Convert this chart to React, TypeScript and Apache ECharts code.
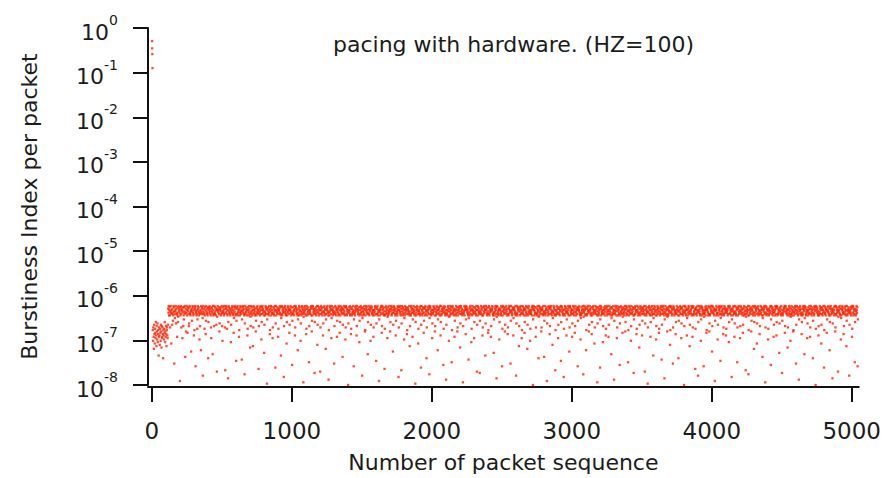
import { useEffect, useRef } from "react";
import * as echarts from "echarts";

const TITLE = "pacing with hardware. (HZ=100)";
const X_NAME = "Number of packet sequence";
const Y_NAME = "Burstiness Index per packet";

const xTicks = [0, 1000, 2000, 3000, 4000, 5000];
const yTicks = [1e-8, 1e-7, 1e-6, 1e-5, 1e-4, 1e-3, 1e-2, 1e-1, 1];

// first few packets (very bursty)
const startPackets = [1, 2, 3, 4];
const startValues = [0.51, 0.35, 0.26, 0.126];

// remaining packets: one level character per sampled packet, read off the picture
// level index k (position in LEVELS) -> value 10^(-8 + 0.03 k)
const BAND_FIRST_PACKET = 6;
const BAND_PACKET_STEP = 2;
const LEVELS = "0123456789ABCDEFGHIJKLMNOPQRSTUVWXYZabcdefghijklmnopqrstuvwx";
const bandRows = [
  "fXhaRjcVgdZlbTieYkWcfMahbUgdXjeSiaZhcKfbYgdlWeaicTfhbZjvsxqu",
  "wqhtxsVurjvsmqxtwGrotuxkvrsaqwlpxvtsu3wqrxhvtuZswiqnwtxrLsve",
  "sxuqdwtvrikwxrsqtPuvmtxwsqrbufvxwEtsqrugnxvtwqsYriutQxswrvo7",
  "txvrsgqwucmxtsrvqwKluwsxvtrqhZwvtsNxqurixsrwtqvjuApvxutswrek",
  "uvwqtrxsiXwtsuqxrvhBsxvwtgrqu5lxwtsrvquWjtvsxwruqdostxwvqrIm",
  "rwvxsqtuafvqsxwtruJntwxusvrq8kxrsvtwqubguwsqxtvrSpixstwqurTh",
  "xuswvqtremqvwsxturCisvtqwxruYlwrxuvstqOjtqsxwrvu1nvrwtqsxucf",
  "vtqxwsurZhswrqvtxuDkxqtuswrvagtuvrxswqMorxwqutsv6iwsxtvqruVl",
  "qsxwtvurdjuvxtsqwrFmwrstuqxvbhxtwvsruqQnsvqxwturXktqwxsvru2p",
  "swtxurvqcgxvqswtruHitusrwvxqemqwxvstur9lvrtwqsuxUjxstqvwruAh",
  "uxrvwsqtbkwtsxqvurRnrvwuxtsq4fsqtwxuvrZoxuvqtswrGitrxswqvuam",
  "tvsqxwrudlqxtvuswrLjvusxrtqwYhxwrqvtus0ksuwtxqrvcgwqvrstxuEn",
  "rsqwtuxvbixvtursqwWmurwxsqtv7owtqsvrxuefqvxtwsurNlsxrvqutwXj",
  "vxwsrtquahusqtxwvrIkwrvxqsut3ntqvuswxrdixusvwrqtCgqwtrxvsuZp",
  "wqrtsxuveltvxqrwusPjsxuwvtrqbmrvtsqxwu6huwsxtqrvBkxtvqwsruYo",
  "qxsvuwtrcfwuvrtsxqTitrqxwvsuanvsxtruqw1lsqwuvxtrVgutrwsqvxDj",
  "xrutqswvdmsvwqxrtuKhqtwsuvxr8owxvrtqsuZkrsuxwtvqeivqstxwruQn",
  "uswvrqxtblxqrtvuwsFgvtxwsqru4jsruqwxtvXptvqxsruwHfwxsrtvquam",
  "tvrqxuswehquswtvxrSkwxtrvsqu2irstxqwuvcnxwvustrqJosvqwxtruWg",
  "vqxutrswZlwtsvrqxuAjuxqwsvtr9mtsrxvuwqbhqrwtxsvuMkxuvsqwrtdf",
  "rxwqsvtuaitvuxwrqsOnsqtvxwur5pxwsrtquvYluvrsqxtwEgqtxwusvrej",
  "wsuxtqvrchrqvwxsutGmxtsqurwvbovuwtrsxq7ksrxqwvutTitwqvxrusZf",
  "sxtrwuqvdluvqsxtwrRjqwvxtsruXgtrsuwqxv0nvxuqtwsrahwrqsvxutKp",
  "xqswvtruehwuvrqxtsLmrtxqsuvw3kusqtxrwvcivwrxusqtUotsxvwqruBf",
  "qtuxrswvZjsvrwqtuxIlxwtvsqru6gruqxvwstbntvsrxuqwPhwxqtsvruak",
  "urxswqtvdixsqtvruwEmvwutxrsqYoqrwsutxv8pstxuqwvrQfvqrwxtusej",
  "txvurqswclqwsvxrutVhsuxrtwvq2kwtrqsvuxDnxvqwtsruWirsuwvqxtbg",
  "vswqxutrajuxrtvsqwNowqvsrxtu4msruxwtqvZhxtqvuwsrFkqwxtsruvdp",
  "wrtsvqxuelsvxqwrutHftqxwusvrXixusrtvwq9nqvwrxsutcguxtqswvrSj",
  "sqxvtwurbmvtwrsuxqAkxrvuqtsw1htswxvrqualwusqxtrvMorvxswutqYi",
  "qusxwvrtdgtvqswxruJjuwrxtsvq5nsxtvrquwepvrqutwxsUfxtwsqvruGh",
  "xwvqsutrclrsxuvtwqKmqtusxwvrZkwvrtqsxu0istxwrquvbouqsvxwtrTj",
  "tsuvxrqwahwxqrtsvuCgvrwqsuxt7lusxtvqrwXnxqvwtrusEprtsuwqxvdf",
  "uvtsqxwrekqrwvxtusPixswtrvqu3mtvuxqrswYjsquwxvtrIowrxqtusvch",
  "rqxwvsutbgstvuqrxwWlwxrsuvtq6nvuqtwxsraktxsrqwuvHhqvwxrtsuZi",
  "xtwrusvqdjvsqxwtruBprwtvsuqx8fqxusvrtwemuvrtxqswRlsqxwtvurVk",
  "wvsxqrutcitrxsuwqvLoqutwvxsr2hsxwqrvutYgvqrutswxFnxrtvwqsuaj",
  "sutqxvwrblxwqvrsutOktwvrqxsu9mrqsuwtvxdiwxtsvruqShusvxqwrtXp",
  "vrxqsuwtefqsvtwxruGjuxswtqrv4nwtuxrsvqclsqrvxwtuNoxvwrqtsuZk",
  "tqwusrxvahrxvtqsuwKmsvqrxuwt0gxuwsvtqrbiqtsxrvwuVjwrvqusxtDf",
  "xsrwqvutdnuwtxsqrvQlwqxvtrus5kvtsuqwxrehrxqwusvtAptuwsxrqvYo",
  "qvuxwtsrcisvwrtxquTmxrqtuvws7jturswqvxagwsxqvrtuHlvqtrxuswEn",
];

const AXIS_COLOR = "#111";
const TEXT_COLOR = "#1c1c1c";
const DOT_COLOR = "#ff2200";
const FONT = "DejaVu Sans";

function buildPoints(): [number, number][] {
  const pts: [number, number][] = [];
  startPackets.forEach((p, i) => pts.push([p, startValues[i]]));
  const all = bandRows.join("");
  for (let i = 0; i < all.length; i++) {
    const k = LEVELS.indexOf(all[i]);
    if (k < 0) continue;
    pts.push([BAND_FIRST_PACKET + i * BAND_PACKET_STEP, Math.pow(10, -8 + 0.03 * k)]);
  }
  return pts;
}

export default function App() {
  const ref = useRef<HTMLDivElement>(null);
  useEffect(() => {
    if (!ref.current) return;
    const chart = echarts.init(ref.current, undefined, { renderer: "svg" });
    chart.setOption({
      animation: false,
      backgroundColor: "#ffffff",
      title: {
        text: TITLE,
        left: 328,
        top: 28,
        textStyle: { fontFamily: FONT, fontSize: 22, fontWeight: "normal", color: TEXT_COLOR },
      },
      grid: { left: 148, right: 24, top: 28, bottom: 91, containLabel: false },
      xAxis: {
        type: "value",
        min: -28,
        max: 5050,
        offset: 2,
        name: X_NAME,
        nameLocation: "middle",
        nameGap: 64,
        nameTextStyle: { fontFamily: FONT, fontSize: 22, color: TEXT_COLOR },
        axisLine: { show: true, onZero: false, lineStyle: { color: AXIS_COLOR, width: 2 } },
        axisTick: { show: true, inside: false, length: 15, customValues: xTicks, lineStyle: { color: AXIS_COLOR, width: 2 } },
        axisLabel: {
          show: true,
          margin: 32,
          customValues: xTicks,
          formatter: (v: number) => String(v),
          fontFamily: FONT,
          fontSize: 23,
          color: TEXT_COLOR,
        },
        splitLine: { show: false },
      },
      yAxis: {
        type: "log",
        logBase: 10,
        min: 1e-8,
        max: 1,
        name: Y_NAME,
        nameLocation: "middle",
        nameGap: 108,
        nameTextStyle: { fontFamily: FONT, fontSize: 22, color: TEXT_COLOR },
        axisLine: { show: true, onZero: false, lineStyle: { color: AXIS_COLOR, width: 2 } },
        axisTick: { show: true, inside: false, length: 15, customValues: yTicks, lineStyle: { color: AXIS_COLOR, width: 2 } },
        axisLabel: {
          show: true,
          margin: 30,
          customValues: yTicks,
          formatter: (v: number) => `{b|10}{e|${Math.round(Math.log10(v))}}`,
          rich: {
            b: { fontFamily: FONT, fontSize: 22, lineHeight: 22, padding: [8, 0, 0, 0], color: TEXT_COLOR },
            e: { fontFamily: FONT, fontSize: 14, lineHeight: 14, padding: [0, 0, 16, 0], color: TEXT_COLOR },
          },
        },
        splitLine: { show: false },
      },
      series: [
        {
          type: "scatter",
          data: buildPoints(),
          symbol: "rect",
          symbolSize: 2.3,
          itemStyle: { color: DOT_COLOR },
          clip: true,
        },
      ],
    });
    return () => chart.dispose();
  }, []);
  return (
    <div
      ref={ref}
      style={{ position: "fixed", left: 0, top: 0, width: 884, height: 478, background: "#fff" }}
    />
  );
}
